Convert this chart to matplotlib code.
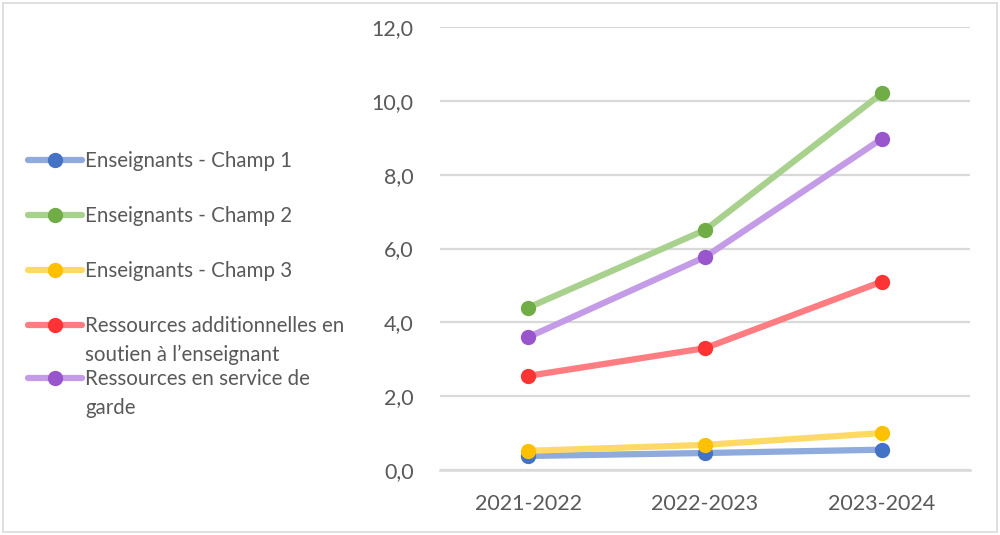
import matplotlib
matplotlib.use("Agg")
from matplotlib import pyplot as plt
from matplotlib.lines import Line2D
from matplotlib.patches import Rectangle

# data
years = ["2021-2022", "2022-2023", "2023-2024"]
champ1 = [0.38, 0.46, 0.55]
champ2 = [4.4, 6.5, 10.2]
champ3 = [0.52, 0.68, 1.0]
ressources_add = [2.55, 3.3, 5.1]
service_garde = [3.6, 5.77, 8.97]

labels = [
    "Enseignants - Champ 1",
    "Enseignants - Champ 2",
    "Enseignants - Champ 3",
    "Ressources additionnelles en\nsoutien à l’enseignant",
    "Ressources en service de\ngarde",
]
series = [champ1, champ2, champ3, ressources_add, service_garde]
line_colors = ["#8faadc", "#a9d18e", "#ffd966", "#ff7c80", "#c39be6"]
marker_colors = ["#4472c4", "#70ad47", "#ffc000", "#ff3333", "#9955cc"]
yticks = [0, 2, 4, 6, 8, 10, 12]

plt.rcParams["font.family"] = ["Lato", "DejaVu Sans"]
text_color = "#595959"
grid_color = "#d9d9d9"

fig = plt.figure(figsize=(10, 5.35), dpi=100)
ax = fig.add_axes([0.44, 0.1215, 0.53, 0.828])

x = range(len(years))
for vals, lc, mc in zip(series, line_colors, marker_colors):
    ax.plot(x, vals, color=lc, lw=4.5, solid_capstyle="round", zorder=3)
    ax.plot(x, vals, ls="none", marker="o", ms=10, color=mc, zorder=4)

ax.set_xlim(-0.5, len(years) - 0.5)
ax.set_ylim(0, 12)
ax.set_yticks(yticks)
ax.set_yticklabels([f"{v:.1f}".replace(".", ",") for v in yticks])
ax.set_xticks(list(x))
ax.set_xticklabels(years)
ax.yaxis.grid(True, color=grid_color, lw=1.6)
ax.set_axisbelow(True)
for s in ["top", "right", "left"]:
    ax.spines[s].set_visible(False)
ax.spines["bottom"].set_color(grid_color)
ax.spines["bottom"].set_linewidth(1.8)
ax.tick_params(axis="both", length=0, labelsize=15.5, colors=text_color)
ax.tick_params(axis="y", pad=19)
ax.tick_params(axis="x", pad=17)

# legend on the left, built by hand to keep Excel's spacing
W, H = 1000, 535
leg_y = [160, 215, 270, 325, 378]
for lab, lc, mc, py in zip(labels, line_colors, marker_colors, leg_y):
    fy = 1 - py / H
    fig.add_artist(Line2D([28 / W, 82 / W], [fy, fy], color=lc, lw=4.5,
                          solid_capstyle="round", transform=fig.transFigure))
    fig.add_artist(Line2D([55 / W], [fy], marker="o", ms=10, color=mc,
                          transform=fig.transFigure))
    fig.text(85 / W, fy + 9 / H, lab, ha="left", va="top", fontsize=14.8,
             color=text_color, linespacing=1.55)

# outer border
fig.add_artist(Rectangle((0.003, 0.005), 0.994, 0.99, fill=False,
                         edgecolor=grid_color, lw=1.2, transform=fig.transFigure))

fig.savefig("out.png", dpi=100)
